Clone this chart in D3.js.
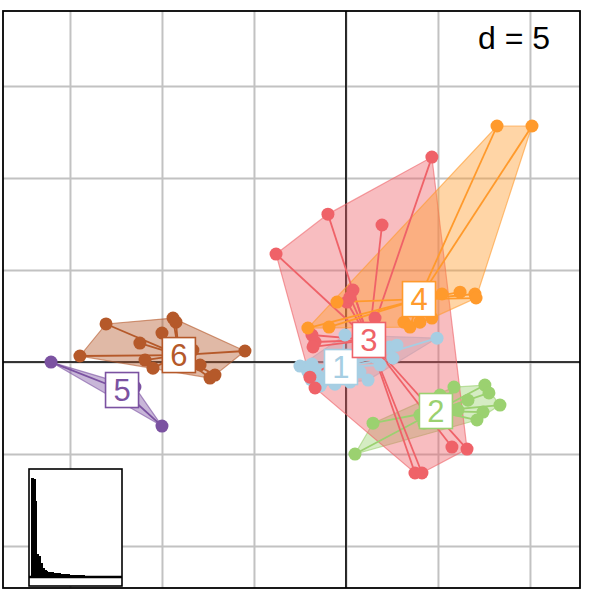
<!DOCTYPE html>
<html><head><meta charset="utf-8">
<script src="https://cdn.jsdelivr.net/npm/d3@7"></script>
<style>body{margin:0;background:#fff}svg{display:block}</style>
</head><body><svg id="c" width="600" height="600"></svg>
<script>
// ---- data ----
const groups = ["1", "2", "3", "4", "5", "6"];
const colors = ["#A6CEE3", "#9BD170", "#EF6268", "#FF9A2C", "#7B52A1", "#B5592A"];
const group1 = [[4.95,1.30],[-2.23,-0.27],[-1.85,-0.11],[-1.52,-0.76],[-1.30,-1.09],[-0.05,1.47],[1.20,-0.98],[1.58,0.27],[2.39,0.82],[2.77,0.92],[2.55,0.22],[0.76,-0.54],[1.85,-0.16],[-0.87,0.00],[-2.50,-0.22],[-2.07,-0.54],[-1.68,-0.43],[-1.14,-0.87],[-0.60,-1.20],[0.22,-1.09],[-1.90,-0.95],[-1.40,-1.30]];
const group2 = [[0.49,-5.00],[1.47,-3.32],[5.87,-1.36],[7.55,-1.25],[7.77,-1.68],[8.37,-2.34],[7.45,-2.72],[7.12,-3.15],[6.09,-2.61],[5.11,-1.79],[4.02,-2.88],[4.24,-3.32],[6.63,-2.07]];
const group3 = [[4.67,11.14],[-0.98,8.04],[1.96,7.45],[-3.80,5.87],[0.38,3.91],[0.05,3.26],[0.22,3.53],[1.58,2.39],[-1.85,1.47],[-1.68,1.09],[-1.79,0.82],[-1.96,-0.82],[-1.68,-1.41],[5.76,-4.62],[6.58,-4.73],[3.75,-6.03],[4.13,-6.03]];
const group4 = [[8.21,12.83],[10.11,12.83],[5.22,3.70],[6.20,3.80],[7.01,3.70],[7.07,3.48],[3.15,2.17],[3.48,1.90],[4.02,2.17],[4.67,2.39],[-2.07,1.85],[-0.92,1.90],[-0.49,3.26]];
const group5 = [[-16.03,0.00],[-10.00,-3.48],[-11.47,-1.36],[-11.74,-1.68]];
const group6 = [[-13.04,2.07],[-14.46,0.33],[-9.40,2.39],[-9.24,2.17],[-10.00,1.58],[-11.20,1.03],[-10.92,0.11],[-10.49,-0.33],[-7.93,-0.16],[-7.39,-0.87],[-7.12,-0.71],[-5.49,0.60],[-8.32,0.65]];
const centroidX = [-0.27, 4.89, 1.25, 3.97, -12.17, -9.08];
const centroidY = [-0.27, -2.66, 1.20, 3.42, -1.52, 0.38];
const gridX = [-15, -10, -5, 0, 5, 10];
const gridY = [-10, -5, 0, 5, 10, 15];
const gridLabel = "d = 5";
const eigenvalues = [98, 97, 75, 22, 20, 13, 8, 6, 5, 4.5, 4, 3.6, 3.3, 3, 2.8, 2.6, 2.4, 2.2, 2, 1.8, 1.6, 1.4, 1.2, 1.1, 1, 0.9, 0.8, 0.7, 0.6, 0.5, 0.5, 0.4, 0.4, 0.3, 0.3, 0.3, 0.2, 0.2, 0.2, 0.2, 0.1, 0.1, 0.1, 0.1, 0.1, 0.1, 0.1, 0.1, 0.1];

const allGroups = [group1, group2, group3, group4, group5, group6];

// ---- layout ----
const L = 3, R = 580, T = 11, B = 588;
const svg = d3.select("#c");
const x = d3.scaleLinear().domain([-18.64, 12.72]).range([L, R]);
const y = d3.scaleLinear().domain([-12.28, 19.08]).range([B, T]);

svg.append("defs").append("clipPath").attr("id", "clip")
  .append("rect").attr("x", L).attr("y", T).attr("width", R - L).attr("height", B - T);

const plot = svg.append("g").attr("clip-path", "url(#clip)");

// grid
plot.append("g").attr("transform", `translate(0,${B})`)
  .call(d3.axisBottom(x).tickValues(gridX).tickSize(-(B - T)).tickFormat(""))
  .call(g => g.select(".domain").remove())
  .call(g => g.selectAll("line").attr("stroke", "#c2c2c2").attr("stroke-width", 2));
plot.append("g").attr("transform", `translate(${L},0)`)
  .call(d3.axisLeft(y).tickValues(gridY).tickSize(-(R - L)).tickFormat(""))
  .call(g => g.select(".domain").remove())
  .call(g => g.selectAll("line").attr("stroke", "#c2c2c2").attr("stroke-width", 2));

// axes through origin
plot.append("line").attr("x1", x(0)).attr("x2", x(0)).attr("y1", T).attr("y2", B)
  .attr("stroke", "#000").attr("stroke-width", 1.6);
plot.append("line").attr("x1", L).attr("x2", R).attr("y1", y(0)).attr("y2", y(0))
  .attr("stroke", "#000").attr("stroke-width", 1.6);

// hulls
allGroups.forEach((pts, i) => {
  const px = pts.map(p => [x(p[0]), y(p[1])]);
  const hull = d3.polygonHull(px);
  if (hull) {
    plot.append("path").attr("d", "M" + hull.join("L") + "Z")
      .attr("fill", colors[i]).attr("fill-opacity", 0.42)
      .attr("stroke", colors[i]).attr("stroke-opacity", 0.6).attr("stroke-width", 1.2);
  }
});
// stars
allGroups.forEach((pts, i) => {
  plot.append("g").selectAll("line").data(pts).join("line")
    .attr("x1", x(centroidX[i])).attr("y1", y(centroidY[i]))
    .attr("x2", d => x(d[0])).attr("y2", d => y(d[1]))
    .attr("stroke", colors[i]).attr("stroke-width", 1.8);
});
// points
allGroups.forEach((pts, i) => {
  plot.append("g").selectAll("circle").data(pts).join("circle")
    .attr("cx", d => x(d[0])).attr("cy", d => y(d[1])).attr("r", 6.5)
    .attr("fill", colors[i]);
});
// labels
groups.forEach((lab, i) => {
  const cx = x(centroidX[i]), cy = y(centroidY[i]);
  plot.append("rect").attr("x", cx - 16.5).attr("y", cy - 17.5).attr("width", 33).attr("height", 35)
    .attr("fill", "#fff").attr("stroke", colors[i]).attr("stroke-width", 1.6);
  plot.append("text").attr("x", cx).attr("y", cy + 11).attr("text-anchor", "middle")
    .attr("font-family", "Liberation Sans, Arial, sans-serif").attr("font-size", 31)
    .attr("fill", colors[i]).text(lab);
});

// d = 5
svg.append("text").attr("x", 550).attr("y", 49).attr("text-anchor", "end")
  .attr("font-family", "Liberation Sans, Arial, sans-serif").attr("font-size", 32)
  .attr("fill", "#000").text(gridLabel);

// inset eigenvalues
const IL = 29, IR = 122, IT = 469, IB = 586;
svg.append("rect").attr("x", IL).attr("y", IT).attr("width", IR - IL).attr("height", IB - IT)
  .attr("fill", "#fff").attr("stroke", "#000").attr("stroke-width", 1.6);
const ex = d3.scaleBand().domain(eigenvalues.map((d, i) => i)).range([31, 120]).padding(0);
const ey = d3.scaleLinear().domain([0, d3.max(eigenvalues)]).range([576, 478]);
svg.append("g").attr("shape-rendering", "crispEdges").selectAll("rect").data(eigenvalues).join("rect")
  .attr("x", (d, i) => ex(i)).attr("width", ex.bandwidth() + 1)
  .attr("y", d => ey(d)).attr("height", d => 576 - ey(d)).attr("fill", "#000");
svg.append("line").attr("x1", IL).attr("x2", IR).attr("y1", 577).attr("y2", 577)
  .attr("stroke", "#000").attr("stroke-width", 2.5);

// frame
svg.append("rect").attr("x", L).attr("y", T).attr("width", R - L).attr("height", B - T)
  .attr("fill", "none").attr("stroke", "#000").attr("stroke-width", 1.8);
</script></body></html>
